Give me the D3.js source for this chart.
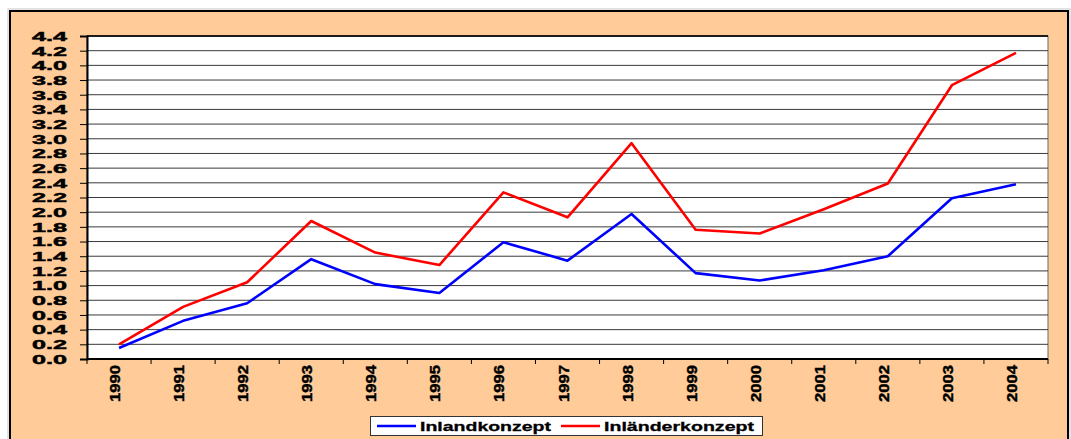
<!DOCTYPE html>
<html>
<head>
<meta charset="utf-8">
<script src="https://cdn.jsdelivr.net/npm/d3@7"></script>
<style>
  html, body { margin: 0; padding: 0; background: #fff; }
  svg { display: block; }
</style>
</head>
<body>
<div id="chart"></div>
<script>
'use strict';

// ── Data ──────────────────────────────────────────────────────────────────
const years = ['1990', '1991', '1992', '1993', '1994', '1995', '1996', '1997',
               '1998', '1999', '2000', '2001', '2002', '2003', '2004'];
const inland   = [0.15, 0.52, 0.76, 1.36, 1.02, 0.90, 1.59, 1.34, 1.975, 1.17, 1.07, 1.21, 1.40, 2.19, 2.38];
const inlaender = [0.20, 0.71, 1.045, 1.88, 1.45, 1.28, 2.27, 1.93, 2.94, 1.76, 1.71, 2.04, 2.39, 3.73, 4.17];
const yTicks = d3.range(0, 23).map(i => i * 0.2);

const seriesList = [
  { name: 'Inlandkonzept',   values: inland,    color: '#0000ff' },
  { name: 'Inländerkonzept', values: inlaender, color: '#ff0000' },
];

// ── Layout ────────────────────────────────────────────────────────────────
const fullW = 1071, fullH = 439;
const margin = { top: 36, right: 23, bottom: 80, left: 87 };
const W = fullW - margin.left - margin.right;   // ≈ 961
const H = 359 - margin.top;                     // plot bottom at y=359

const FONT = '"Liberation Sans", Arial, sans-serif';

const svg = d3.select('#chart').append('svg')
  .attr('width', fullW).attr('height', fullH);

// outer frame
svg.append('rect')
  .attr('x', 8).attr('y', 9).attr('width', 1062).attr('height', 450)
  .attr('fill', 'none').attr('stroke', '#c8c8c8').attr('stroke-width', 1);
svg.append('rect')
  .attr('x', 10).attr('y', 11).attr('width', 1058).attr('height', 450)
  .attr('fill', '#ffcc99').attr('stroke', '#000').attr('stroke-width', 2);

const g = svg.append('g').attr('transform', `translate(${margin.left},${margin.top})`);

const x = d3.scaleBand().domain(years).range([0, W]).padding(0);
const y = d3.scaleLinear().domain([0, 4.4]).range([H, 0]);

// plot area
g.append('rect')
  .attr('width', W).attr('height', H)
  .attr('fill', '#fff').attr('stroke', '#666').attr('stroke-width', 1);

// grid
g.append('g')
  .selectAll('line')
  .data(yTicks.slice(1))
  .join('line')
  .attr('x1', 0).attr('x2', W)
  .attr('y1', d => y(d)).attr('y2', d => y(d))
  .attr('stroke', '#3a3a3a').attr('stroke-width', 1);

// top border
g.append('line').attr('x1', 0).attr('x2', W).attr('y1', 0).attr('y2', 0)
  .attr('stroke', '#000').attr('stroke-width', 1.5);

// Y axis
const yAxis = g.append('g')
  .call(d3.axisLeft(y).tickValues(yTicks).tickSize(7).tickPadding(13).tickFormat(d3.format('.1f')));
yAxis.select('.domain').attr('stroke', '#000').attr('stroke-width', 2);
yAxis.selectAll('.tick line').attr('stroke', '#000').attr('stroke-width', 1);
yAxis.selectAll('text')
  .attr('fill', '#000')
  .attr('stroke', '#000').attr('stroke-width', 0.5)
  .attr('font-family', FONT)
  .attr('font-weight', 'bold')
  .attr('font-size', '13.5px')
  .attr('textLength', 35)
  .attr('lengthAdjust', 'spacingAndGlyphs');

// X axis (ticks at band boundaries)
const xAxisG = g.append('g').attr('transform', `translate(0,${H})`);
xAxisG.append('line').attr('x1', 0).attr('x2', W)
  .attr('stroke', '#000').attr('stroke-width', 2);
xAxisG.selectAll('.xtick')
  .data(years.concat(['end']))
  .join('line')
  .attr('class', 'xtick')
  .attr('x1', (d, i) => i * x.step()).attr('x2', (d, i) => i * x.step())
  .attr('y1', 0).attr('y2', 5)
  .attr('stroke', '#000').attr('stroke-width', 1);
xAxisG.selectAll('.xlabel')
  .data(years)
  .join('text')
  .attr('class', 'xlabel')
  .attr('transform', d => `translate(${x(d) + x.bandwidth() / 2 + 1},6) rotate(-90)`)
  .attr('text-anchor', 'end')
  .attr('fill', '#000')
  .attr('stroke', '#000').attr('stroke-width', 0.4)
  .attr('font-family', FONT)
  .attr('font-weight', 'bold')
  .attr('font-size', '14px')
  .attr('textLength', 37)
  .attr('lengthAdjust', 'spacingAndGlyphs')
  .text(d => d);

// Lines
const line = d3.line()
  .x((d, i) => x(years[i]) + x.bandwidth() / 2)
  .y(d => y(d));

g.selectAll('.series')
  .data(seriesList)
  .join('path')
  .attr('class', 'series')
  .attr('fill', 'none')
  .attr('stroke', d => d.color)
  .attr('stroke-width', 2.6)
  .attr('stroke-linejoin', 'round')
  .attr('d', d => line(d.values));

// ── Legend ────────────────────────────────────────────────────────────────
const legend = svg.append('g').attr('transform', 'translate(370,416)');
legend.append('rect')
  .attr('x', 0.5).attr('y', 0.5).attr('width', 392).attr('height', 19)
  .attr('fill', '#fff').attr('stroke', '#333').attr('stroke-width', 1);

const legendItems = [
  { s: seriesList[0], lx: 7,   tx: 50,  tl: 131 },
  { s: seriesList[1], lx: 191, tx: 234, tl: 150 },
];
legendItems.forEach(it => {
  legend.append('line')
    .attr('x1', it.lx).attr('x2', it.lx + 39)
    .attr('y1', 10).attr('y2', 10)
    .attr('stroke', it.s.color).attr('stroke-width', 2.6);
  legend.append('text')
    .attr('x', it.tx).attr('y', 15)
    .attr('fill', '#000')
    .attr('stroke', '#000').attr('stroke-width', 0.3)
    .attr('font-family', FONT)
    .attr('font-weight', 'bold')
    .attr('font-size', '13.5px')
    .attr('textLength', it.tl)
    .attr('lengthAdjust', 'spacingAndGlyphs')
    .text(it.s.name);
});
</script>
</body>
</html>
